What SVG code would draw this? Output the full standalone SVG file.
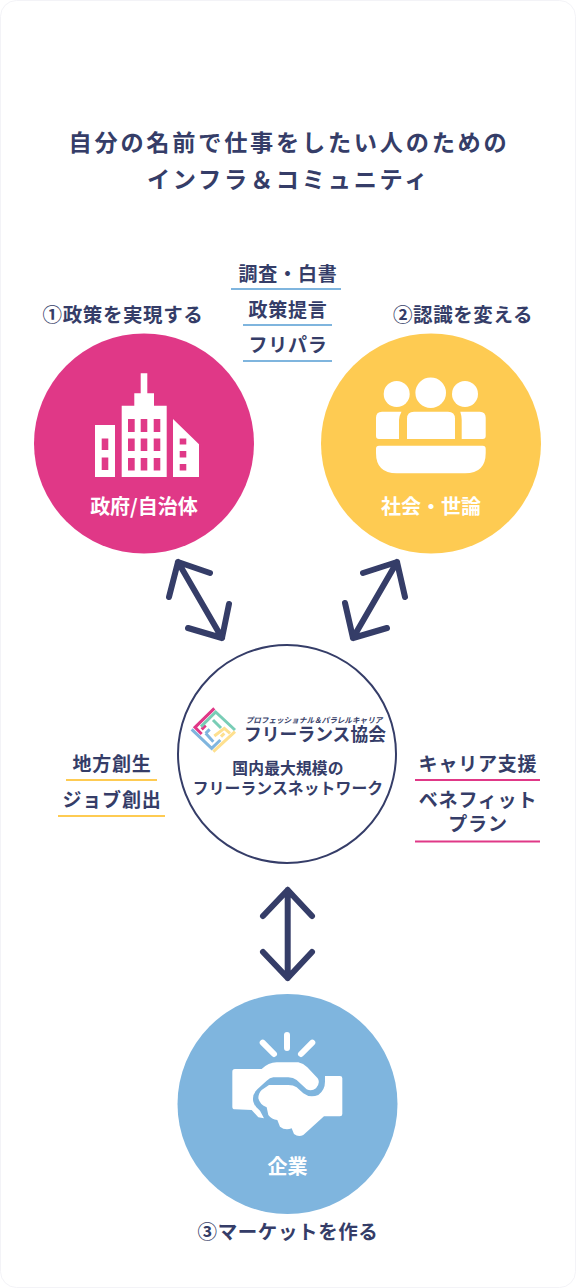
<svg xmlns="http://www.w3.org/2000/svg" width="576" height="1288" viewBox="0 0 576 1288">
<style>
text{font-family:"Noto Sans CJK JP","Noto Sans",sans-serif;font-weight:700;fill:#353d68;text-anchor:middle}
.t{font-size:23.2px;letter-spacing:2.75px}
.h{font-size:19.5px;letter-spacing:.6px}
.l{font-size:19px;letter-spacing:.8px}
.w{fill:#fff;font-size:20px}
.m{font-size:15.8px;letter-spacing:.1px}
.a{fill:none;stroke:#353d68;stroke-width:6;stroke-linecap:round;stroke-linejoin:round}
.b{fill:none;stroke:#7fb5de;stroke-width:2}
.p{fill:none;stroke:#e03887;stroke-width:2}
.y{fill:none;stroke:#fecb52;stroke-width:2}
</style>
<rect width="576" height="1288" fill="#fff"/>
<rect x=".5" y=".5" width="575" height="1287" rx="16" fill="#fff" stroke="#f3f3f7"/>
<text class="t" x="289" y="151">自分の名前で仕事をしたい人のための</text>
<text class="t" x="288.500" y="188">インフラ＆コミュニティ</text>
<g id="labels-top">
<text class="l" x="288" y="281">調査・白書</text><path class="b" d="M231 289H341"/>
<text class="l" x="288" y="317">政策提言</text><path class="b" d="M243 325H332"/>
<text class="l" x="288" y="352">フリパラ</text><path class="b" d="M243 361H332"/>
</g>
<g id="node-gov">
<text class="h" x="123" y="322">①政策を実現する</text>
<circle cx="144" cy="443.500" r="110" fill="#e03887"/>
<path fill="#fff" fill-rule="evenodd" d="M95 425H115V477H95ZM101.700 438.500V450H108.300V438.500ZM101.700 457.500V470H108.300V457.500ZM121.700 405.700H134.300V393.300H140.700V373.300H147.300V393.300H154V405.700H166.700V477H121.700ZM128 419V432H134.700V419ZM140.700 419V432H147.300V419ZM153.700 419V432H160.300V419ZM128 438.500V451H134.700V438.500ZM140.700 438.500V451H147.300V438.500ZM153.700 438.500V451H160.300V438.500ZM128 458V470.500H134.700V458ZM140.700 458V470.500H147.300V458ZM153.700 458V470.500H160.300V458ZM173 419L199 444.300V477H173ZM179.700 438.500V444.500H186.300V438.500ZM179.700 451V457.500H186.300V451ZM179.700 464V470.500H186.300V464Z"/>
<text class="w" x="144" y="514">政府/自治体</text>
</g>
<g id="node-society">
<text class="h" x="463" y="322">②認識を変える</text>
<circle cx="431" cy="443.500" r="110" fill="#fecb52"/>
<g fill="#fff">
<circle cx="396.700" cy="394" r="13"/><circle cx="430.700" cy="392.700" r="15.300"/><circle cx="465" cy="394" r="13"/>
<path d="M382 411.700H401.500Q399 416 399 420V439H379Q376 439 376 436V417.700Q376 411.700 382 411.700ZM414 411.700H448Q455 411.700 455 418.700V439H407V418.700Q407 411.700 414 411.700ZM460.300 411.700H479.700Q485.700 411.700 485.700 417.700V436Q485.700 439 482.700 439H461.700V420Q461.700 416 460.300 411.700ZM379 445.700H482.700Q485.700 445.700 485.700 448.700V453Q485.700 473.300 465 473.300H396.700Q376 473.300 376 453V448.700Q376 445.700 379 445.700Z"/>
</g>
<text class="w" x="431" y="514">社会・世論</text>
</g>
<g id="connectors">
<path class="a" d="M178 562L222 638M178 562L169 597M178 562L210 573M222 638L229 604M222 638L188 628"/>
<path class="a" d="M397 562L353 638M397 562L363 573M397 562L405 597M353 638L345 603M353 638L387 628"/>
<path class="a" d="M287.700 890V978M287.700 890L263 916M287.700 890L312 916M287.700 978L263 952M287.700 978L312 952"/>
</g>
<g id="node-fla">
<circle cx="287" cy="754" r="109" fill="#fff" stroke="#353d68" stroke-width="2"/>
<g transform="translate(185 700) scale(.3333)" fill="none" stroke-width="9">
<path stroke="#e03887" d="M88 25L30 82L50 102M62 76L50 88"/>
<path stroke="#79cdb6" d="M48 80L92 36L150 90M84 60L108 84"/>
<path stroke="#fee08f" d="M150 95L85 155M88 108L118 85L135 100M118 100L108 110"/>
<path stroke="#7fb5de" d="M20 88L80 145L106 120M62 100L85 125M62 100L74 88"/>
</g>
<text font-size="7.600" x="314" y="722.500" font-style="italic">プロフェッショナル＆パラレルキャリア</text>
<text font-size="17.800" font-weight="500" x="315" y="741">フリーランス協会</text>
<text class="m" x="288" y="774"><tspan>国内最大規模の</tspan><tspan x="288" dy="20">フリーランスネットワーク</tspan></text>
</g>
<g id="labels-left">
<text class="l" x="112" y="771">地方創生</text><path class="y" d="M66 780H157"/>
<text class="l" x="112" y="807">ジョブ創出</text><path class="y" d="M58 816H165"/>
</g>
<g id="labels-right">
<text class="l" x="478" y="771">キャリア支援</text><path class="p" d="M415 780H540"/>
<text class="l" x="478" y="807"><tspan>ベネフィット</tspan><tspan x="478" dy="24">プラン</tspan></text><path class="p" d="M415 841.500H540"/>
</g>
<g id="node-company">
<circle cx="287.500" cy="1104" r="110" fill="#7fb5de"/>
<path d="M287 1035V1048M262.700 1042.700L274 1054M312.300 1042.700L301 1054" stroke="#fff" stroke-width="6" stroke-linecap="round" fill="none"/>
<g transform="translate(170 1000) scale(.3333)" fill="#fff">
<path d="M195 207L275 207Q295 188 320 187L385 187Q400 190 412 202L443 235Q452 248 438 265Q425 275 410 268L380 240Q370 232 355 232L310 232Q300 233 290 242L262 268Q245 285 250 305Q255 322 270 332L282 355L265 352L245 330L195 328Q187 328 187 320L187 215Q187 207 195 207Z"/>
<path d="M465 228L510 228Q517 228 517 235L517 342Q517 349 510 349L462 349L400 405Q385 412 372 402L365 385Q345 392 330 380L322 360Q305 358 295 345L290 322Q270 315 265 295Q265 280 275 270L297 255L355 255Q370 255 380 262L400 280Q420 295 445 285Q465 270 465 245Z"/>
</g>
<text class="w" x="287.500" y="1174">企業</text>
<text class="h" x="288" y="1239">③マーケットを作る</text>
</g>
</svg>
